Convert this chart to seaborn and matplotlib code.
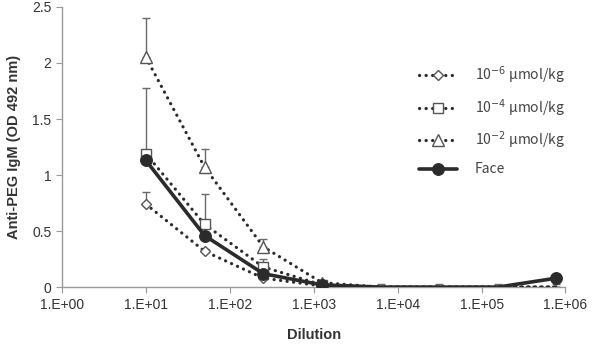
import numpy as np
import pandas as pd
import matplotlib
matplotlib.use("Agg")
import matplotlib.pyplot as plt
import seaborn as sns

# ---- data ----
dilution = [10, 50, 250, 1250, 6250, 31250, 156250, 781250]
dose_1e6 = [0.74, 0.32, 0.08, 0.01, 0.0, 0.0, 0.0, 0.0]
dose_1e4 = [1.19, 0.56, 0.18, 0.02, 0.0, 0.0, 0.0, 0.0]
dose_1e2 = [2.05, 1.07, 0.36, 0.04, 0.0, 0.0, 0.0, 0.0]
face = [1.13, 0.46, 0.12, 0.02, 0.0, 0.0, 0.0, 0.08]
err_1e6 = [0.11, 0.02, 0.01, 0.0, 0.025, 0.025, 0.025, 0.025]
err_1e4 = [0.59, 0.27, 0.07, 0.01, 0.0, 0.0, 0.0, 0.0]
err_1e2 = [0.35, 0.16, 0.07, 0.01, 0.0, 0.0, 0.0, 0.0]
series_labels = [r"10$^{-6}$ μmol/kg", r"10$^{-4}$ μmol/kg", r"10$^{-2}$ μmol/kg", "Face"]
xtick_vals = [1, 10, 100, 1000, 10000, 100000, 1000000]
xtick_labels = ["1.E+00", "1.E+01", "1.E+02", "1.E+03", "1.E+04", "1.E+05", "1.E+06"]
ytick_vals = [0, 0.5, 1, 1.5, 2, 2.5]
ytick_labels = ["0", "0.5", "1", "1.5", "2", "2.5"]

sns.set_style("white")
plt.rcParams['font.family'] = ['Liberation Sans', 'DejaVu Sans']

fig = plt.figure(figsize=(5.93, 3.48), dpi=100)
ax = fig.add_axes([0.1046, 0.175, 0.849, 0.805])

dark = "#2b2b2b"
errc = "#6a6a6a"
dotted = (0, (0.05, 2.0))

vals = [dose_1e6, dose_1e4, dose_1e2, face]
errs = [err_1e6, err_1e4, err_1e2, None]
markers = ["D", "s", "^", "o"]
msizes = [5.5, 7.5, 8, 8.5]

# error bars (upward; zero-valued points get a small symmetric bar)
for v, e in zip(vals, errs):
    if e is None:
        continue
    v = np.asarray(v)
    e = np.asarray(e)
    lower = np.where(v == 0, e, 0.0)
    ax.errorbar(dilution, v, yerr=[lower, e], fmt="none",
                ecolor=errc, elinewidth=1.0, capsize=3, capthick=1.0, zorder=2)

for i, (v, lab, mk, ms) in enumerate(zip(vals, series_labels, markers, msizes)):
    df = pd.DataFrame({"Dilution": dilution, "OD": v})
    shown = [j for j, y in enumerate(v) if y > 0]
    n0 = len(ax.lines)
    if lab == "Face":
        sns.lineplot(data=df, x="Dilution", y="OD", ax=ax, color=dark, lw=2.6,
                     marker=mk, markersize=ms, markerfacecolor=dark,
                     markeredgecolor=dark, label=lab, zorder=4)
    else:
        sns.lineplot(data=df, x="Dilution", y="OD", ax=ax, color=dark, lw=2.3,
                     marker=mk, markersize=ms, markerfacecolor="white",
                     markeredgecolor="#555555", markeredgewidth=1.0,
                     label=lab, zorder=3)
    for ln in ax.lines[n0:]:
        ln.set_markevery(shown)
        if lab != "Face":
            ln.set_linestyle(dotted)
            ln.set_dash_capstyle("round")

ax.set_xscale("log")
ax.set_xlim(1, 1e6)
ax.set_ylim(0, 2.5)
ax.set_xticks(xtick_vals)
ax.set_xticklabels(xtick_labels)
ax.minorticks_off()
ax.set_yticks(ytick_vals)
ax.set_yticklabels(ytick_labels)
ax.tick_params(axis="both", labelsize=10, length=4, width=0.8, direction="out",
               bottom=True, left=True, colors="#999999", labelcolor="#333333")

for s in ["top", "right"]:
    ax.spines[s].set_visible(False)
for s in ["left", "bottom"]:
    ax.spines[s].set_color("#999999")
    ax.spines[s].set_linewidth(1.0)

ax.set_xlabel("Dilution", fontsize=10.5, fontweight="bold", color="#333333", labelpad=12)
ax.set_ylabel("Anti-PEG IgM (OD 492 nm)", fontsize=10.5, fontweight="bold", color="#333333", labelpad=8)

leg = ax.legend(loc="upper left", bbox_to_anchor=(0.685, 0.84), frameon=False,
                handlelength=2.7, labelspacing=0.8, handletextpad=1.3,
                prop={"family": ["Noto Sans CJK JP", "DejaVu Sans"], "size": 10})
for t in leg.get_texts():
    t.set_color("#444444")
for h, lab in zip(leg.legend_handles, series_labels):
    if lab != "Face":
        h.set_linestyle(dotted)
        h.set_dash_capstyle("round")

fig.savefig("out.png", dpi=100)
